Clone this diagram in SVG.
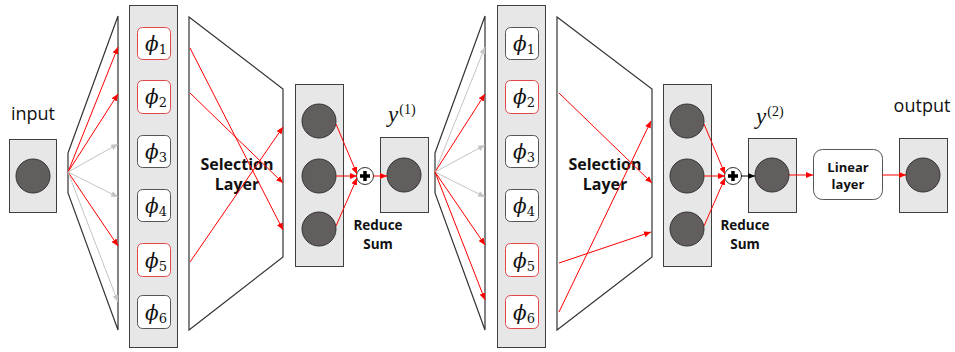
<svg xmlns="http://www.w3.org/2000/svg" width="955" height="352" viewBox="0 0 955 352">
<defs>
<style>
.gbox{fill:#e8e7e7;stroke:#3f3f3f;stroke-width:1}
.node{fill:#635e5e;stroke:#333;stroke-width:1}
.trap{fill:#fff;stroke:#333;stroke-width:1.2}
.phi{fill:#fff;stroke:#555;stroke-width:1}
.phir{fill:#fff;stroke:#e04848;stroke-width:1}
.r{stroke:#f00;stroke-width:1;fill:none;marker-end:url(#ar)}
.g{stroke:#c4c4c4;stroke-width:1;fill:none;marker-end:url(#ag)}
.k{stroke:#000;stroke-width:1;fill:none;marker-end:url(#ak)}
.lbl{font-family:"Open Sans","Noto Sans",sans-serif;fill:#111}
.b{font-family:"Open Sans","Noto Sans",sans-serif;font-weight:bold;fill:#111;text-anchor:middle}
.m{font-family:"DejaVu Serif","Liberation Serif",serif;fill:#111}
.y{font-family:"Liberation Serif","DejaVu Serif",serif;fill:#111}
</style>
<marker id="ar" markerUnits="userSpaceOnUse" markerWidth="8" markerHeight="6" refX="7" refY="3" orient="auto"><path d="M0,0 L7,3 L0,6 Z" fill="#f00"/></marker>
<marker id="ag" markerUnits="userSpaceOnUse" markerWidth="8" markerHeight="6" refX="7" refY="3" orient="auto"><path d="M0,0 L7,3 L0,6 Z" fill="#c4c4c4"/></marker>
<marker id="ak" markerUnits="userSpaceOnUse" markerWidth="8" markerHeight="6" refX="7" refY="3" orient="auto"><path d="M0,0 L7,3 L0,6 Z" fill="#000"/></marker>
</defs>
<rect width="955" height="352" fill="#fff"/>

<g id="input">
<text class="lbl" x="33" y="120" font-size="18" text-anchor="middle">input</text>
<rect class="gbox" x="9.5" y="139.5" width="47" height="73"/>
<circle class="node" cx="33" cy="176" r="17"/>
</g>

<g id="fan1"><polygon class="trap" points="68,153 118,16 118,330 68,193"/></g>

<g id="phicol1">
<rect class="gbox" x="129.5" y="5.5" width="48" height="342"/>
<rect class="phir" x="137.5" y="27.5" width="33" height="32" rx="5"/>
<rect class="phir" x="137.5" y="80.5" width="33" height="33" rx="5"/>
<rect class="phi" x="137.5" y="135.5" width="33" height="32" rx="5"/>
<rect class="phi" x="137.5" y="189.5" width="33" height="32" rx="5"/>
<rect class="phir" x="137.5" y="243.5" width="33" height="33" rx="5"/>
<rect class="phi" x="137.5" y="295.5" width="33" height="33" rx="5"/>
<text class="m" font-size="20" font-style="italic" x="145" y="51">ϕ<tspan font-style="normal" font-size="13" dy="3">1</tspan></text>
<text class="m" font-size="20" font-style="italic" x="145" y="104">ϕ<tspan font-style="normal" font-size="13" dy="3">2</tspan></text>
<text class="m" font-size="20" font-style="italic" x="145" y="159">ϕ<tspan font-style="normal" font-size="13" dy="3">3</tspan></text>
<text class="m" font-size="20" font-style="italic" x="145" y="213">ϕ<tspan font-style="normal" font-size="13" dy="3">4</tspan></text>
<text class="m" font-size="20" font-style="italic" x="145" y="268">ϕ<tspan font-style="normal" font-size="13" dy="3">5</tspan></text>
<text class="m" font-size="20" font-style="italic" x="145" y="320">ϕ<tspan font-style="normal" font-size="13" dy="3">6</tspan></text>
</g>

<g id="sel1">
<polygon class="trap" points="189,17 283,89 283,257 189,330"/>
<text class="b" font-size="16" x="237" y="170">Selection</text>
<text class="b" font-size="16" x="237" y="190">Layer</text>
</g>

<g id="col1">
<rect class="gbox" x="295.5" y="84.5" width="48" height="182"/>
<circle class="node" cx="319" cy="121" r="17"/>
<circle class="node" cx="319" cy="176" r="17"/>
<circle class="node" cx="319" cy="229" r="17"/>
</g>

<g id="sum1">
<circle cx="365" cy="176" r="8.5" fill="#fff" stroke="#333" stroke-width="1"/>
<path d="M360,176 H370 M365,171 V181" stroke="#000" stroke-width="3.5"/>
<text class="b" font-size="13.5" x="378" y="230">Reduce</text>
<text class="b" font-size="13.5" x="378" y="249">Sum</text>
</g>

<g id="y1">
<text class="y" x="388" y="122"><tspan font-size="23" font-style="italic">y</tspan><tspan font-size="14" dy="-8" dx="1">(1)</tspan></text>
<rect class="gbox" x="380.5" y="137.5" width="48" height="75"/>
<circle class="node" cx="404" cy="175" r="17"/>
</g>

<g id="fan2"><polygon class="trap" points="435,153 485,16 485,330 435,193"/></g>

<g id="phicol2">
<rect class="gbox" x="497.5" y="5.5" width="48" height="342"/>
<rect class="phi" x="505.5" y="27.5" width="33" height="32" rx="5"/>
<rect class="phir" x="505.5" y="80.5" width="33" height="33" rx="5"/>
<rect class="phi" x="505.5" y="135.5" width="33" height="32" rx="5"/>
<rect class="phi" x="505.5" y="189.5" width="33" height="32" rx="5"/>
<rect class="phir" x="505.5" y="243.5" width="33" height="33" rx="5"/>
<rect class="phir" x="505.5" y="295.5" width="33" height="33" rx="5"/>
<text class="m" font-size="20" font-style="italic" x="513" y="51">ϕ<tspan font-style="normal" font-size="13" dy="3">1</tspan></text>
<text class="m" font-size="20" font-style="italic" x="513" y="104">ϕ<tspan font-style="normal" font-size="13" dy="3">2</tspan></text>
<text class="m" font-size="20" font-style="italic" x="513" y="159">ϕ<tspan font-style="normal" font-size="13" dy="3">3</tspan></text>
<text class="m" font-size="20" font-style="italic" x="513" y="213">ϕ<tspan font-style="normal" font-size="13" dy="3">4</tspan></text>
<text class="m" font-size="20" font-style="italic" x="513" y="268">ϕ<tspan font-style="normal" font-size="13" dy="3">5</tspan></text>
<text class="m" font-size="20" font-style="italic" x="513" y="320">ϕ<tspan font-style="normal" font-size="13" dy="3">6</tspan></text>
</g>

<g id="sel2">
<polygon class="trap" points="557,17 652,89 652,257 557,330"/>
<text class="b" font-size="16" x="605" y="170">Selection</text>
<text class="b" font-size="16" x="605" y="190">Layer</text>
</g>

<g id="col2">
<rect class="gbox" x="663.5" y="84.5" width="48" height="182"/>
<circle class="node" cx="687" cy="121" r="17"/>
<circle class="node" cx="687" cy="176" r="17"/>
<circle class="node" cx="687" cy="229" r="17"/>
</g>

<g id="sum2">
<circle cx="733" cy="176" r="8.5" fill="#fff" stroke="#333" stroke-width="1"/>
<path d="M728,176 H738 M733,171 V181" stroke="#000" stroke-width="3.5"/>
<text class="b" font-size="13.5" x="745" y="230">Reduce</text>
<text class="b" font-size="13.5" x="745" y="249">Sum</text>
</g>

<g id="y2">
<text class="y" x="756" y="124"><tspan font-size="23" font-style="italic">y</tspan><tspan font-size="14" dy="-8" dx="1">(2)</tspan></text>
<rect class="gbox" x="748.5" y="138.5" width="48" height="74"/>
<circle class="node" cx="772" cy="175" r="17"/>
</g>

<g id="linear">
<rect x="813.5" y="149.5" width="69" height="50" rx="9" fill="#fff" stroke="#555" stroke-width="1"/>
<text class="b" font-size="13" x="848" y="172">Linear</text>
<text class="b" font-size="13" x="848" y="189">layer</text>
</g>

<g id="output">
<text class="lbl" x="922" y="112" font-size="18" text-anchor="middle">output</text>
<rect class="gbox" x="899.5" y="138.5" width="48" height="74"/>
<circle class="node" cx="923" cy="175" r="17"/>
</g>

<g id="connectors">
<line class="r" x1="68" y1="172" x2="118" y2="47"/>
<line class="r" x1="68" y1="172" x2="118" y2="94"/>
<line class="g" x1="68" y1="172" x2="118" y2="144"/>
<line class="g" x1="68" y1="172" x2="118" y2="197"/>
<line class="r" x1="68" y1="172" x2="118" y2="246"/>
<line class="g" x1="68" y1="172" x2="118" y2="302"/>

<line class="r" x1="190" y1="48" x2="283" y2="230"/>
<line class="r" x1="190" y1="93" x2="283" y2="183"/>
<line class="r" x1="190" y1="262" x2="283" y2="127"/>

<line class="r" x1="336" y1="124" x2="357" y2="174"/>
<line class="r" x1="336" y1="176" x2="357" y2="176"/>
<line class="r" x1="336" y1="226" x2="357" y2="178"/>
<line class="r" x1="373" y1="176" x2="387" y2="176"/>

<line class="g" x1="435" y1="172" x2="485" y2="47"/>
<line class="r" x1="435" y1="172" x2="485" y2="94"/>
<line class="g" x1="435" y1="172" x2="485" y2="145"/>
<line class="g" x1="435" y1="172" x2="485" y2="197"/>
<line class="r" x1="435" y1="172" x2="485" y2="245"/>
<line class="r" x1="435" y1="172" x2="485" y2="300"/>

<line class="r" x1="559" y1="93" x2="652" y2="183"/>
<line class="r" x1="559" y1="263" x2="651" y2="232"/>
<line class="r" x1="559" y1="312" x2="651" y2="121"/>

<line class="r" x1="704" y1="124" x2="725" y2="174"/>
<line class="r" x1="704" y1="176" x2="725" y2="176"/>
<line class="r" x1="704" y1="226" x2="725" y2="178"/>
<line class="k" x1="741" y1="176" x2="755" y2="176"/>

<line class="r" x1="789" y1="175" x2="813" y2="175"/>
<line class="r" x1="882" y1="175" x2="906" y2="175"/>
</g>
</svg>
